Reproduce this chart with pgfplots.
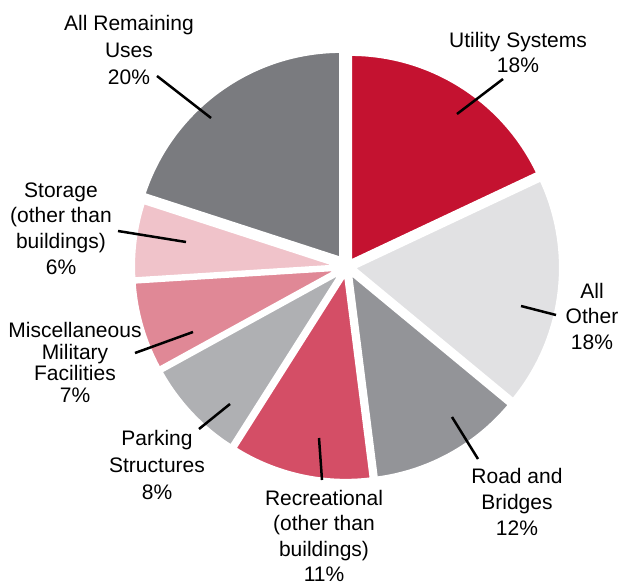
\documentclass[border=0pt]{standalone}
\usepackage{pgfplots}
\pgfplotsset{compat=1.18}
\usepackage{fontspec}
\setmainfont{Liberation Sans}
\definecolor{utility}{RGB}{196,18,48}
\definecolor{allother}{RGB}{225,225,227}
\definecolor{road}{RGB}{147,148,152}
\definecolor{recre}{RGB}{212,78,102}
\definecolor{parking}{RGB}{175,176,179}
\definecolor{misc}{RGB}{224,136,150}
\definecolor{storage}{RGB}{240,195,202}
\definecolor{remaining}{RGB}{122,123,127}
% #1 cumulative start (%), #2 value (%), #3 colour, #4 explode (pt)
\newcommand{\slice}[4]{%
  \pgfmathsetmacro\sa{90-3.6*#1}%
  \pgfmathsetmacro\ea{90-3.6*(#1+#2)}%
  \pgfmathsetmacro\ma{(\sa+\ea)/2}%
  \edef\doslice{\noexpand\filldraw[fill=#3,draw=white,line width=4pt,line join=round] (axis cs:347,320) ++(\ma:#4pt) -- ++(\sa:208pt) arc[start angle=\sa,end angle=\ea,radius=208pt] -- cycle;}%
  \doslice}
\begin{document}
\begin{tikzpicture}
\begin{axis}[x=1pt,y=1pt,xmin=0,xmax=618,ymin=0,ymax=587,hide axis,clip=false,scale only axis]
\slice{0}{18}{utility}{6}
\slice{18}{18}{allother}{6}
\slice{36}{12}{road}{6}
\slice{48}{11}{recre}{6}
\slice{59}{8}{parking}{6}
\slice{67}{7}{misc}{6}
\slice{74}{6}{storage}{6}
\slice{80}{20}{remaining}{10}
% leader lines
\addplot[black,line width=2.5pt] coordinates {(457,473) (503,508)};
\addplot[black,line width=2.5pt] coordinates {(157,511) (211,469)};
\addplot[black,line width=2.5pt] coordinates {(118,356) (186,345)};
\addplot[black,line width=2.5pt] coordinates {(135,234) (193,255)};
\addplot[black,line width=2.5pt] coordinates {(199,158) (230,183)};
\addplot[black,line width=2.5pt] coordinates {(319,149) (322,107)};
\addplot[black,line width=2.5pt] coordinates {(452,170) (478,128)};
\addplot[black,line width=2.5pt] coordinates {(521,281) (556,272)};
% labels
\tikzset{lbl/.style={align=center,inner sep=0pt}}
\node[lbl,font=\fontsize{21}{25.5}\selectfont] at (axis cs:518,534.5) {Utility Systems\\18\%};
\node[lbl,font=\fontsize{21}{27}\selectfont] at (axis cs:129,537) {All Remaining\\Uses\\20\%};
\node[lbl,font=\fontsize{21}{25.7}\selectfont] at (axis cs:61,358.5) {Storage\\(other than\\buildings)\\6\%};
\node[lbl,font=\fontsize{21}{21.7}\selectfont] at (axis cs:75,224.5) {Miscellaneous\\Military\\Facilities\\7\%};
\node[lbl,font=\fontsize{21}{27}\selectfont] at (axis cs:157,122) {Parking\\Structures\\8\%};
\node[lbl,font=\fontsize{21}{25.5}\selectfont] at (axis cs:324,51) {Recreational\\(other than\\buildings)\\11\%};
\node[lbl,font=\fontsize{21}{26}\selectfont] at (axis cs:517,85) {Road and\\Bridges\\12\%};
\node[lbl,font=\fontsize{21}{25.5}\selectfont] at (axis cs:592,271) {All\\Other\\18\%};
\end{axis}
\pgfresetboundingbox
\useasboundingbox (0,0) rectangle (618pt,587pt);
\end{tikzpicture}
\end{document}
